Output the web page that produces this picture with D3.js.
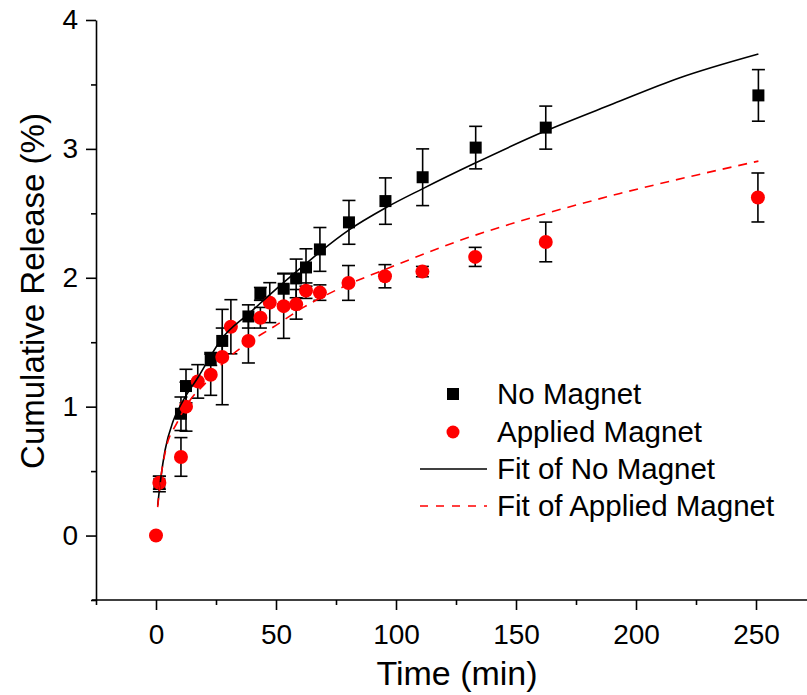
<!DOCTYPE html>
<html>
<head>
<meta charset="utf-8">
<script src="https://cdn.jsdelivr.net/npm/d3@7"></script>
<style>
  html, body { margin: 0; padding: 0; background: #fff; }
  svg { display: block; font-family: "Liberation Sans", Arial, sans-serif; }
</style>
</head>
<body>
<svg id="chart" width="807" height="695"></svg>
<script>
// Time (min) and cumulative release (%)
const noMagnetTime = [1.4, 10.4, 12.5, 22.8, 27.6, 38.5, 43.5, 53.2, 58.4, 62.5, 68.3, 80.4, 95.6, 111.1, 133.2, 162.4, 251];
const noMagnetValue = [0.40, 0.945, 1.16, 1.37, 1.51, 1.70, 1.875, 1.915, 1.995, 2.08, 2.22, 2.43, 2.595, 2.78, 3.01, 3.165, 3.415];
const noMagnetError = [0.06, 0.13, 0.13, 0.05, 0.1, 0.09, 0.05, 0.12, 0.15, 0.145, 0.17, 0.17, 0.18, 0.22, 0.165, 0.167, 0.2];

const magnetTime = [0, 1.4, 10.4, 12.5, 17.4, 22.8, 27.6, 31.2, 38.5, 43.5, 47.4, 53.2, 58.4, 62.5, 68.3, 80.2, 95.4, 111, 133, 162.4, 250.8];
const magnetValue = [0, 0.41, 0.61, 1.0, 1.196, 1.248, 1.385, 1.62, 1.509, 1.69, 1.807, 1.78, 1.794, 1.9, 1.885, 1.96, 2.012, 2.048, 2.162, 2.278, 2.623];
const magnetError = [0, 0.05, 0.15, 0.19, 0.13, 0.16, 0.37, 0.21, 0.17, 0.08, 0.155, 0.25, 0.115, 0.06, 0.06, 0.135, 0.09, 0.04, 0.074, 0.154, 0.19];

// fitted curves, sampled from the figure
const fitNoMagnetTime = [0.7, 1.96, 3.75, 7.2, 11.4, 17.6, 22.5, 26.7, 39.2, 53, 62.5, 68.3, 80.3, 95.4, 111, 133, 162.4, 190.5, 218, 251];
const fitNoMagnetValue = [0.233, 0.44, 0.66, 0.89, 1.05, 1.23, 1.385, 1.51, 1.73, 1.96, 2.11, 2.2, 2.37, 2.54, 2.69, 2.89, 3.14, 3.35, 3.55, 3.736];
const fitMagnetTime = [0.7, 1.96, 3.75, 8.9, 14.2, 21, 28, 36.4, 48.9, 61.4, 78, 97.5, 126.7, 162.8, 193.3, 225, 251];
const fitMagnetValue = [0.22, 0.44, 0.64, 0.88, 1.05, 1.19, 1.34, 1.47, 1.618, 1.77, 1.93, 2.08, 2.29, 2.5, 2.654, 2.796, 2.905];

const xMajorTicks = [0, 50, 100, 150, 200, 250];
const xMinorTicks = [-25, 25, 75, 125, 175, 225, 275];
const yMajorTicks = [0, 1, 2, 3, 4];
const yMinorTicks = [-0.5, 0.5, 1.5, 2.5, 3.5];

const legendItems = ["No Magnet", "Applied Magnet", "Fit of No Magnet", "Fit of Applied Magnet"];

const svg = d3.select("#chart");

const x = d3.scaleLinear().domain([-25, 275]).range([96, 816]);
const y = d3.scaleLinear().domain([-0.5, 4]).range([600, 20]);

const toPoints = (times, values, errors) =>
  times.map((t, i) => ({ t, v: values[i], e: errors ? errors[i] : 0 }));

const noMagnet = toPoints(noMagnetTime, noMagnetValue, noMagnetError);
const magnet = toPoints(magnetTime, magnetValue, magnetError);
const fitNoMagnet = toPoints(fitNoMagnetTime, fitNoMagnetValue);
const fitMagnet = toPoints(fitMagnetTime, fitMagnetValue);

// axes
const xAxis = svg.append("g").attr("transform", "translate(0,600)");
xAxis.call(d3.axisBottom(x).tickValues(xMinorTicks).tickSize(5).tickSizeOuter(0).tickFormat(""));
xAxis.append("g").call(
  d3.axisBottom(x).tickValues(xMajorTicks).tickSize(10).tickPadding(14).tickSizeOuter(0).tickFormat(d3.format("d")),
);
xAxis.select(".domain").attr("d", "M92,0H807");

const yAxis = svg.append("g").attr("transform", "translate(96,0)");
yAxis.call(d3.axisLeft(y).tickValues(yMinorTicks).tickSize(5).tickSizeOuter(0).tickFormat(""));
yAxis.append("g").call(
  d3.axisLeft(y).tickValues(yMajorTicks).tickSize(10).tickPadding(8).tickSizeOuter(0).tickFormat(d3.format("d")),
);

svg.selectAll(".domain, .tick line").attr("stroke", "#000").attr("stroke-width", 1.6);
svg.selectAll("g g .domain").remove();
svg.selectAll(".tick text")
  .attr("fill", "#000")
  .attr("font-family", "Liberation Sans, Arial, sans-serif")
  .attr("font-size", 28);

svg.append("text")
  .attr("x", 457)
  .attr("y", 685)
  .attr("text-anchor", "middle")
  .attr("font-size", 34)
  .text("Time (min)");

svg.append("text")
  .attr("transform", "translate(44,291) rotate(-90)")
  .attr("text-anchor", "middle")
  .attr("font-size", 33)
  .text("Cumulative Release (%)");

// error bars
function drawErrorBars(points) {
  const g = svg.append("g").attr("stroke", "#000").attr("stroke-width", 1.6);
  points.filter((p) => p.e > 0).forEach((p) => {
    const cx = x(p.t);
    const top = y(p.v + p.e);
    const bottom = y(p.v - p.e);
    g.append("line").attr("x1", cx).attr("x2", cx).attr("y1", top).attr("y2", bottom);
    g.append("line").attr("x1", cx - 6.5).attr("x2", cx + 6.5).attr("y1", top).attr("y2", top);
    g.append("line").attr("x1", cx - 6.5).attr("x2", cx + 6.5).attr("y1", bottom).attr("y2", bottom);
  });
}

drawErrorBars(noMagnet);
svg.append("g")
  .selectAll("rect")
  .data(noMagnet)
  .join("rect")
  .attr("x", (d) => x(d.t) - 6)
  .attr("y", (d) => y(d.v) - 6)
  .attr("width", 12)
  .attr("height", 12)
  .attr("fill", "#000");

drawErrorBars(magnet);
svg.append("g")
  .selectAll("circle")
  .data(magnet)
  .join("circle")
  .attr("cx", (d) => x(d.t))
  .attr("cy", (d) => y(d.v))
  .attr("r", 7)
  .attr("fill", "#ff0000");

// fit lines
const line = d3.line().x((d) => x(d.t)).y((d) => y(d.v)).curve(d3.curveMonotoneX);

svg.append("path")
  .datum(fitNoMagnet)
  .attr("d", line)
  .attr("fill", "none")
  .attr("stroke", "#000")
  .attr("stroke-width", 1.6);

svg.append("path")
  .datum(fitMagnet)
  .attr("d", line)
  .attr("fill", "none")
  .attr("stroke", "#ff0000")
  .attr("stroke-width", 1.6)
  .attr("stroke-dasharray", "9,7");

// legend
const legend = svg.append("g");
const rowY = [394, 432, 469, 506];

legend.append("rect").attr("x", 447).attr("y", rowY[0] - 6).attr("width", 12).attr("height", 12).attr("fill", "#000");
legend.append("circle").attr("cx", 453).attr("cy", rowY[1]).attr("r", 6.5).attr("fill", "#ff0000");
legend.append("line").attr("x1", 420).attr("x2", 487).attr("y1", rowY[2]).attr("y2", rowY[2])
  .attr("stroke", "#000").attr("stroke-width", 1.6);
legend.append("line").attr("x1", 420).attr("x2", 487).attr("y1", rowY[3]).attr("y2", rowY[3])
  .attr("stroke", "#ff0000").attr("stroke-width", 1.6).attr("stroke-dasharray", "8,8");

legend.selectAll("text")
  .data(legendItems)
  .join("text")
  .attr("x", 497)
  .attr("y", (_, i) => rowY[i] + 10)
  .attr("font-size", 29.5)
  .text((d) => d);
</script>
</body>
</html>
